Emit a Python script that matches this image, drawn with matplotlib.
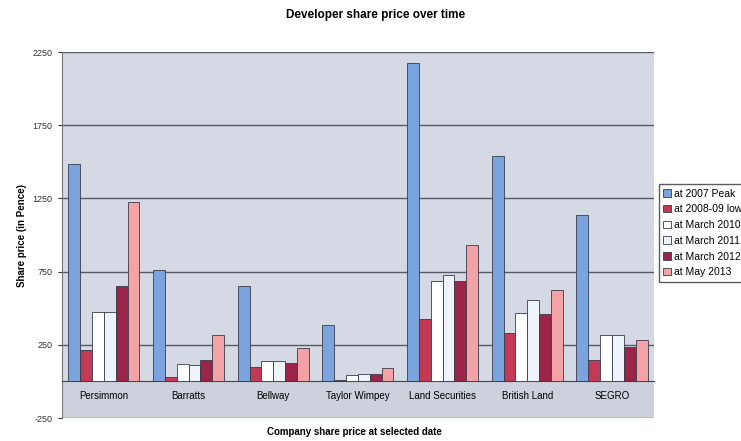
import matplotlib.pyplot as plt
import numpy as np

plt.rcParams['font.family'] = ['Liberation Sans', 'DejaVu Sans']
plt.rcParams['axes.unicode_minus'] = False

companies = ['Persimmon', 'Barratts', 'Bellway', 'Taylor Wimpey', 'Land Securities', 'British Land', 'SEGRO']
series = ['at 2007 Peak', 'at 2008-09 low', 'at March 2010', 'at March 2011', 'at March 2012', 'at May 2013']

peak_2007 = [1483, 764, 654, 387, 2175, 1537, 1140]
low_2008 = [216, 31, 99, 10, 428, 332, 147]
mar_2010 = [476, 120, 140, 44, 687, 469, 318]
mar_2011 = [476, 113, 140, 51, 728, 558, 318]
mar_2012 = [654, 147, 127, 51, 687, 462, 236]
may_2013 = [1229, 318, 229, 92, 935, 627, 284]

values = [peak_2007, low_2008, mar_2010, mar_2011, mar_2012, may_2013]
colors = ['#7ba4de', '#c23a55', '#ffffff', '#eef3fa', '#9b2449', '#f3a3a6']

fig = plt.figure(figsize=(7.41, 4.41), dpi=100)
ax = fig.add_axes([0.083, 0.052, 0.8, 0.83])
ax.set_facecolor('#d5d9e3')
# slightly different band under the zero line where the category labels sit
ax.axhspan(-250, 0, color='#cdd1db', zorder=0)

x = np.arange(len(companies))
w = 0.14
for i, (vals, c, name) in enumerate(zip(values, colors, series)):
    ax.bar(x + (i - 2.5) * w, vals, w, color=c, edgecolor='#3a3a4a', linewidth=0.6, label=name, zorder=3)

ax.set_ylim(-250, 2250)
ax.set_xlim(-0.5, 6.5)
ax.set_yticks([-250, 250, 750, 1250, 1750, 2250])
ax.yaxis.grid(True, color='#555a66', linewidth=1.0, zorder=1)
ax.tick_params(axis='y', labelsize=6.5, length=3, colors='#333333')
ax.tick_params(axis='x', labelsize=7, length=0, pad=7)
ax.set_xticks(x)
ax.set_xticklabels(companies)
ax.spines['bottom'].set_position(('data', 0))
ax.spines['bottom'].set_color('#444444')
ax.spines['top'].set_visible(False)
ax.spines['right'].set_visible(False)
ax.spines['left'].set_color('#777777')

ax.set_ylabel('Share price (in Pence)', fontsize=7, fontweight='bold')
fig.text(0.507, 0.98, 'Developer share price over time', ha='center', va='top', fontsize=8.5, fontweight='bold')
fig.text(0.478, 0.01, 'Company share price at selected date', ha='center', va='bottom', fontsize=7, fontweight='bold')

ax.legend(loc='upper left', bbox_to_anchor=(0.889, 0.583), bbox_transform=fig.transFigure,
          fontsize=7.5, frameon=True, fancybox=False, edgecolor='#333333', handlelength=0.7,
          handleheight=0.7, handletextpad=0.3, borderpad=0.45, labelspacing=0.55, borderaxespad=0)

fig.savefig('out.png', dpi=100)
